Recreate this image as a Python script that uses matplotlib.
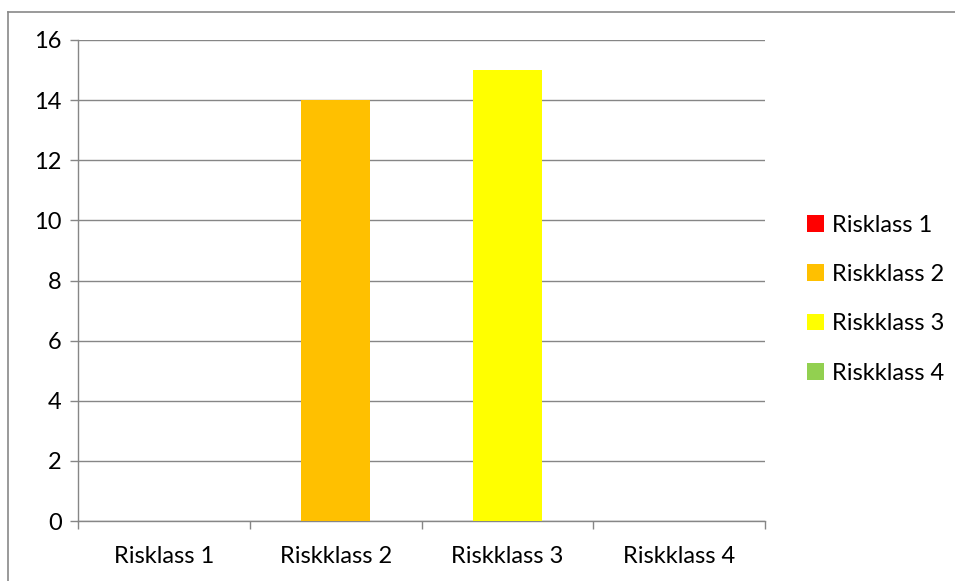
import matplotlib.pyplot as plt
from matplotlib.patches import Patch
from matplotlib.lines import Line2D

categories = ["Risklass 1", "Riskklass 2", "Riskklass 3", "Riskklass 4"]
values = [0, 14, 15, 0]
colors = ["#FF0000", "#FFC000", "#FFFF00", "#92D050"]
yticks = [0, 2, 4, 6, 8, 10, 12, 14, 16]

plt.rcParams["font.family"] = ["Lato", "DejaVu Sans"]
grid_col = "#868686"

W, H = 955, 581
fig = plt.figure(figsize=(W / 100, H / 100), dpi=100)
ax = fig.add_axes([78 / W, 1 - 521 / H, (765 - 78) / W, (521 - 40) / H])

x = list(range(len(categories)))
ax.bar(x, values, width=0.4, color=colors, zorder=3)

ax.set_xlim(-0.5, len(categories) - 0.5)
ax.set_ylim(0, 16)
ax.set_yticks(yticks)
ax.yaxis.grid(True, color=grid_col, linewidth=1.0, zorder=1)
ax.set_axisbelow(True)

ax.set_xticks(x)
ax.set_xticklabels(categories)
ax.set_xticks([i - 0.5 for i in range(len(categories) + 1)], minor=True)
ax.tick_params(axis="x", which="major", length=0, pad=18, labelsize=17)
ax.tick_params(axis="x", which="minor", length=5.5, width=1.0, color=grid_col,
               direction="out")
ax.tick_params(axis="y", length=5.8, width=1.0, color=grid_col, pad=6,
               labelsize=17)

for s in ["top", "right"]:
    ax.spines[s].set_visible(False)
for s in ["left", "bottom"]:
    ax.spines[s].set_color(grid_col)
    ax.spines[s].set_linewidth(1.0)

handles = [Patch(facecolor=c, edgecolor="none") for c in colors]
fig.legend(handles, categories, loc="center left",
           bbox_to_anchor=(807 / W, 1 - 299 / H), frameon=False,
           fontsize=17, handlelength=0.7, handleheight=0.7,
           handletextpad=0.35, labelspacing=1.2, borderpad=0,
           borderaxespad=0)

# outer chart border (only top and left visible)
fig.add_artist(Line2D([8 / W, 1], [1 - 12 / H, 1 - 12 / H], color="#898989",
                      linewidth=1.2, transform=fig.transFigure))
fig.add_artist(Line2D([8 / W, 8 / W], [0, 1 - 12 / H], color="#898989",
                      linewidth=1.2, transform=fig.transFigure))

fig.savefig("out.png", dpi=100)
